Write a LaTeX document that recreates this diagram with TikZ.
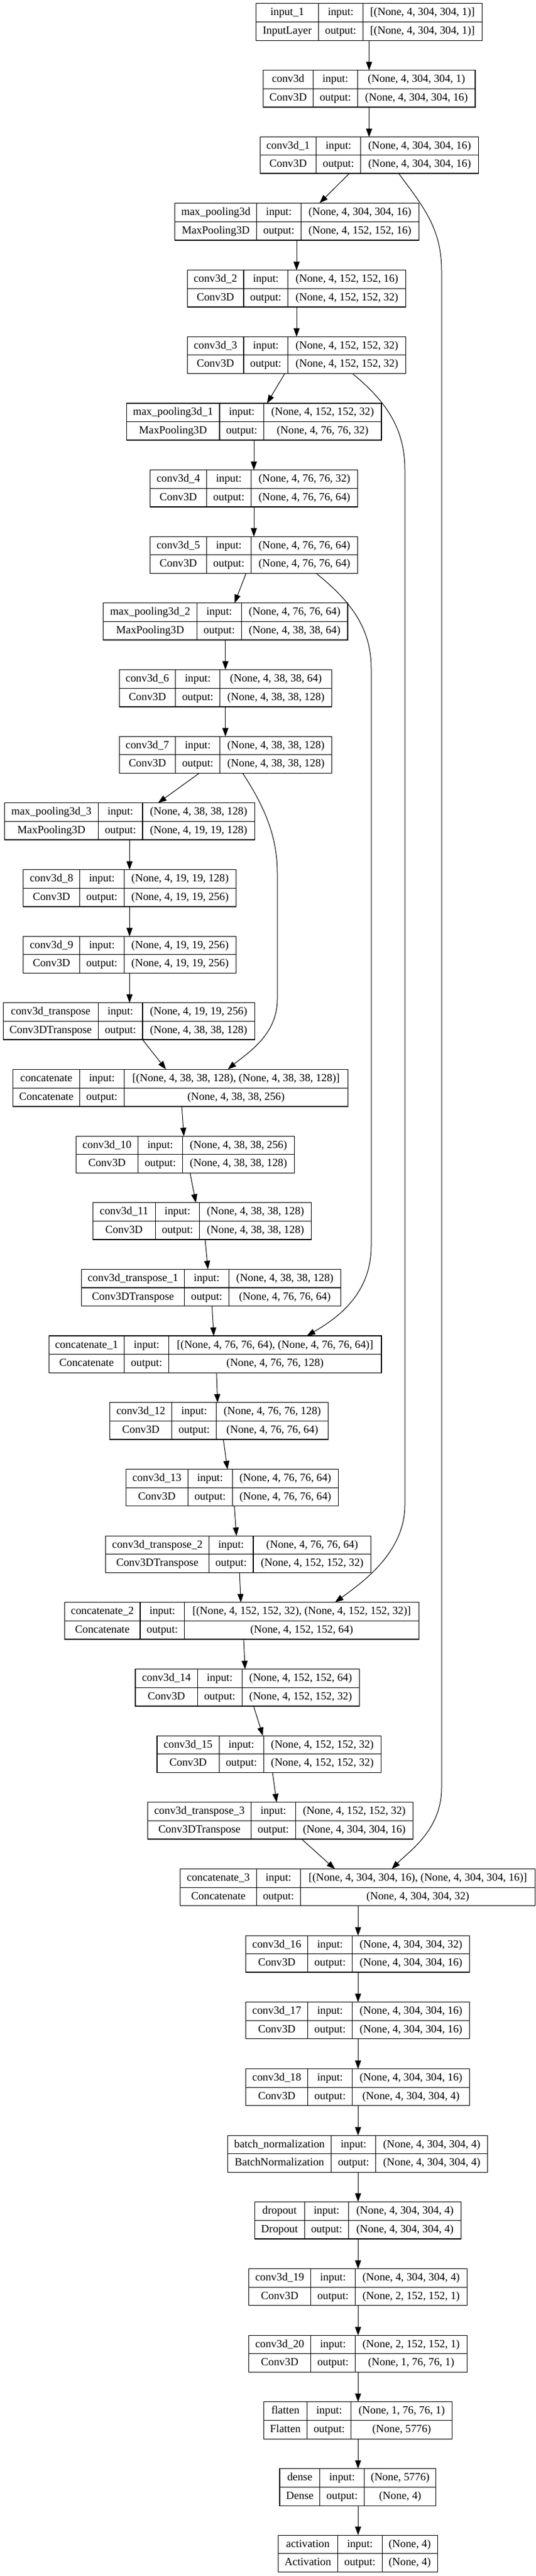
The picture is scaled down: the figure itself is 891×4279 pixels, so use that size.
\documentclass[tikz,border=0pt]{standalone}
\usepackage{fontspec}
\setmainfont{Liberation Serif}
\usetikzlibrary{arrows.meta}
\tikzset{
  lbox/.style={draw, line width=1.1pt, rectangle, inner sep=0pt, outer sep=0pt},
  cell/.style={line width=1.1pt},
  txt/.style={inner sep=0pt, text height=12.6pt, text depth=3.3pt, font=\fontsize{18.3}{22}\selectfont},
  arr/.style={line width=1pt, -{Triangle[length=14pt,width=10pt]}},
}
\newcommand\geo[6]{\def\gL{#1}\def\gA{#2}\def\gB{#3}\def\gR{#4}\def\gT{#5}\def\gU{#6}}
\newcommand\lay[5]{%
  \node[lbox, anchor=north west, minimum width={(\gR-\gL)*1pt}, minimum height={(\gU-\gT)*1pt}] (#1) at (\gL,\gT) {};
  \draw[cell] (\gA,\gT) -- (\gA,\gU) (\gB,\gT) -- (\gB,\gU) (\gL,{\gT+(\gU-\gT)/2}) -- (\gR,{\gT+(\gU-\gT)/2});
  \node[txt] (#1-n) at ({(\gL+\gA)/2},{\gT+(\gU-\gT)/4}) {#2};
  \node[txt] (#1-c) at ({(\gL+\gA)/2},{\gU-(\gU-\gT)/4}) {#3};
  \node[txt] (#1-i) at ({(\gA+\gB)/2},{\gT+(\gU-\gT)/4}) {input:};
  \node[txt] (#1-o) at ({(\gA+\gB)/2},{\gU-(\gU-\gT)/4}) {output:};
  \node[txt] (#1-a) at ({(\gB+\gR)/2},{\gT+(\gU-\gT)/4}) {#4};
  \node[txt] (#1-b) at ({(\gB+\gR)/2},{\gU-(\gU-\gT)/4}) {#5};
}
\begin{document}
\begin{tikzpicture}[x=1pt,y=-1pt]
\useasboundingbox[fill=white] (0,0) rectangle (891,4279);

\geo{425.5}{529.5}{603.2}{801.4}{5.7}{67.3}
\lay{in}{input\_1}{InputLayer}{[(None, 4, 304, 304, 1)]}{[(None, 4, 304, 304, 1)]}
\geo{437.5}{520.4}{594.6}{790}{116.7}{178}
\lay{c0}{conv3d}{Conv3D}{(None, 4, 304, 304, 1)}{(None, 4, 304, 304, 16)}
\geo{432.4}{525.5}{599.8}{795.1}{227.7}{288}
\lay{c1}{conv3d\_1}{Conv3D}{(None, 4, 304, 304, 16)}{(None, 4, 304, 304, 16)}
\geo{290.7}{426.7}{500.4}{696.3}{337.3}{399}
\lay{mp0}{max\_pooling3d}{MaxPooling3D}{(None, 4, 304, 304, 16)}{(None, 4, 152, 152, 16)}
\geo{311.3}{405}{478.7}{674.6}{448.7}{510}
\lay{c2}{conv3d\_2}{Conv3D}{(None, 4, 152, 152, 16)}{(None, 4, 152, 152, 32)}
\geo{311.3}{405}{478.7}{674.6}{559.3}{620.3}
\lay{c3}{conv3d\_3}{Conv3D}{(None, 4, 152, 152, 32)}{(None, 4, 152, 152, 32)}
\geo{210.2}{365}{438.7}{634}{670}{731}
\lay{mp1}{max\_pooling3d\_1}{MaxPooling3D}{(None, 4, 152, 152, 32)}{(None, 4, 76, 76, 32)}
\geo{249.6}{343.3}{417.5}{594.6}{780.7}{842}
\lay{c4}{conv3d\_4}{Conv3D}{(None, 4, 76, 76, 32)}{(None, 4, 76, 76, 64)}
\geo{249.6}{343.3}{417.5}{594.6}{891.3}{952.3}
\lay{c5}{conv3d\_5}{Conv3D}{(None, 4, 76, 76, 64)}{(None, 4, 76, 76, 64)}
\geo{171.9}{327.3}{401.5}{578}{1001.7}{1063}
\lay{mp2}{max\_pooling3d\_2}{MaxPooling3D}{(None, 4, 76, 76, 64)}{(None, 4, 38, 38, 64)}
\geo{198.2}{291.9}{365.6}{551.8}{1112.3}{1174}
\lay{c6}{conv3d\_6}{Conv3D}{(None, 4, 38, 38, 64)}{(None, 4, 38, 38, 128)}
\geo{198.2}{291.9}{365.6}{551.8}{1223.3}{1284.3}
\lay{c7}{conv3d\_7}{Conv3D}{(None, 4, 38, 38, 128)}{(None, 4, 38, 38, 128)}
\geo{7.4}{163.4}{237}{423.3}{1333.7}{1395}
\lay{mp3}{max\_pooling3d\_3}{MaxPooling3D}{(None, 4, 38, 38, 128)}{(None, 4, 19, 19, 128)}
\geo{38.8}{132.5}{206.2}{392.4}{1444.7}{1506}
\lay{c8}{conv3d\_8}{Conv3D}{(None, 4, 19, 19, 128)}{(None, 4, 19, 19, 256)}
\geo{38.8}{132.5}{206.2}{392.4}{1555.3}{1616.3}
\lay{c9}{conv3d\_9}{Conv3D}{(None, 4, 19, 19, 256)}{(None, 4, 19, 19, 256)}
\geo{5.1}{163.4}{237}{423.3}{1665.7}{1727}
\lay{ct0}{conv3d\_transpose}{Conv3DTranspose}{(None, 4, 19, 19, 256)}{(None, 4, 38, 38, 128)}
\geo{21.7}{132.5}{206.2}{578.6}{1776.3}{1838}
\lay{cat0}{concatenate}{Concatenate}{[(None, 4, 38, 38, 128), (None, 4, 38, 38, 128)]}{(None, 4, 38, 38, 256)}
\geo{126.2}{229.6}{303.3}{489.5}{1887.3}{1948.3}
\lay{c10}{conv3d\_10}{Conv3D}{(None, 4, 38, 38, 256)}{(None, 4, 38, 38, 128)}
\geo{154.2}{258.2}{331.9}{517.5}{1997.7}{2059}
\lay{c11}{conv3d\_11}{Conv3D}{(None, 4, 38, 38, 128)}{(None, 4, 38, 38, 128)}
\geo{135.4}{306.7}{380.4}{566.6}{2108.3}{2169.7}
\lay{ct1}{conv3d\_transpose\_1}{Conv3DTranspose}{(None, 4, 38, 38, 128)}{(None, 4, 76, 76, 64)}
\geo{81.1}{206.8}{280.5}{634}{2219}{2280.3}
\lay{cat1}{concatenate\_1}{Concatenate}{[(None, 4, 76, 76, 64), (None, 4, 76, 76, 64)]}{(None, 4, 76, 76, 128)}
\geo{182.8}{285.6}{359.9}{545.5}{2329.7}{2391}
\lay{c12}{conv3d\_12}{Conv3D}{(None, 4, 76, 76, 128)}{(None, 4, 76, 76, 64)}
\geo{209.1}{312.4}{386.1}{562.6}{2440.7}{2501.7}
\lay{c13}{conv3d\_13}{Conv3D}{(None, 4, 76, 76, 64)}{(None, 4, 76, 76, 64)}
\geo{175.9}{347.3}{421}{616.9}{2551.3}{2612.3}
\lay{ct2}{conv3d\_transpose\_2}{Conv3DTranspose}{(None, 4, 76, 76, 64)}{(None, 4, 152, 152, 32)}
\geo{107.4}{233}{306.7}{696.3}{2661.7}{2723}
\lay{cat2}{concatenate\_2}{Concatenate}{[(None, 4, 152, 152, 32), (None, 4, 152, 152, 32)]}{(None, 4, 152, 152, 64)}
\geo{225}{328.4}{402.1}{597.5}{2772.7}{2834}
\lay{c14}{conv3d\_14}{Conv3D}{(None, 4, 152, 152, 64)}{(None, 4, 152, 152, 32)}
\geo{261}{364.4}{438.1}{633.5}{2883.3}{2944.3}
\lay{c15}{conv3d\_15}{Conv3D}{(None, 4, 152, 152, 32)}{(None, 4, 152, 152, 32)}
\geo{245.6}{417.5}{491.2}{686.6}{2993.7}{3055}
\lay{ct3}{conv3d\_transpose\_3}{Conv3DTranspose}{(None, 4, 152, 152, 32)}{(None, 4, 304, 304, 16)}
\geo{299.9}{426.1}{499.8}{889.4}{3104.7}{3165.7}
\lay{cat3}{concatenate\_3}{Concatenate}{[(None, 4, 304, 304, 16), (None, 4, 304, 304, 16)]}{(None, 4, 304, 304, 32)}
\geo{408.4}{511.8}{585.5}{780.8}{3215.3}{3276}
\lay{c16}{conv3d\_16}{Conv3D}{(None, 4, 304, 304, 32)}{(None, 4, 304, 304, 16)}
\geo{408.4}{511.8}{585.5}{780.8}{3325.7}{3386.7}
\lay{c17}{conv3d\_17}{Conv3D}{(None, 4, 304, 304, 16)}{(None, 4, 304, 304, 16)}
\geo{408.4}{511.8}{585.5}{780.8}{3436.7}{3497.7}
\lay{c18}{conv3d\_18}{Conv3D}{(None, 4, 304, 304, 16)}{(None, 4, 304, 304, 4)}
\geo{378.7}{550.6}{624.9}{810.5}{3547.3}{3608.3}
\lay{bn}{batch\_normalization}{BatchNormalization}{(None, 4, 304, 304, 4)}{(None, 4, 304, 304, 4)}
\geo{423.3}{506.1}{579.8}{766.6}{3657.3}{3719}
\lay{dp}{dropout}{Dropout}{(None, 4, 304, 304, 4)}{(None, 4, 304, 304, 4)}
\geo{413.5}{516.4}{590.6}{776.3}{3768.7}{3829.7}
\lay{c19}{conv3d\_19}{Conv3D}{(None, 4, 304, 304, 4)}{(None, 2, 152, 152, 1)}
\geo{413.5}{516.4}{590.6}{776.3}{3879.3}{3940.3}
\lay{c20}{conv3d\_20}{Conv3D}{(None, 2, 152, 152, 1)}{(None, 1, 76, 76, 1)}
\geo{438.1}{510.7}{583.8}{751.7}{3989.7}{4051}
\lay{fl}{flatten}{Flatten}{(None, 1, 76, 76, 1)}{(None, 5776)}
\geo{465}{531.8}{605.5}{724.9}{4100.7}{4162}
\lay{de}{dense}{Dense}{(None, 5776)}{(None, 4)}
\geo{462.1}{561.5}{635.2}{727.1}{4211}{4272.3}
\lay{ac}{activation}{Activation}{(None, 4)}{(None, 4)}

% straight connectors
\draw[arr] (613.5,0 |- in.south) -- (613.5,0 |- c0.north);
\draw[arr] (613.5,0 |- c0.south) -- (613.5,0 |- c1.north);
\draw[arr] (580.9,0 |- c1.south) -- (531.2,0 |- mp0.north);
\draw[arr] (493,0 |- mp0.south) -- (493,0 |- c2.north);
\draw[arr] (493,0 |- c2.south) -- (493,0 |- c3.north);
\draw[arr] (473.5,0 |- c3.south) -- (443.8,0 |- mp1.north);
\draw[arr] (422,0 |- mp1.south) -- (422,0 |- c4.north);
\draw[arr] (422,0 |- c4.south) -- (422,0 |- c5.north);
\draw[arr] (409,0 |- c5.south) -- (390,0 |- mp2.north);
\draw[arr] (374.7,0 |- mp2.south) -- (374.7,0 |- c6.north);
\draw[arr] (374.7,0 |- c6.south) -- (374.7,0 |- c7.north);
\draw[arr] (331.3,0 |- c7.south) -- (262.8,0 |- mp3.north);
\draw[arr] (215.3,0 |- mp3.south) -- (215.3,0 |- c8.north);
\draw[arr] (215.3,0 |- c8.south) -- (215.3,0 |- c9.north);
\draw[arr] (215.3,0 |- c9.south) -- (215.3,0 |- ct0.north);
\draw[arr] (237,0 |- ct0.south) -- (275.9,0 |- cat0.north);
\draw[arr] (302.2,0 |- cat0.south) -- (305.6,0 |- c10.north);
\draw[arr] (315.9,0 |- c10.south) -- (325.6,0 |- c11.north);
\draw[arr] (341,0 |- c11.south) -- (345.6,0 |- ct1.north);
\draw[arr] (352.4,0 |- ct1.south) -- (355.3,0 |- cat1.north);
\draw[arr] (359.9,0 |- cat1.south) -- (361.6,0 |- c12.north);
\draw[arr] (371.3,0 |- c12.south) -- (378.1,0 |- c13.north);
\draw[arr] (389.6,0 |- c13.south) -- (393,0 |- ct2.north);
\draw[arr] (398.1,0 |- ct2.south) -- (400.4,0 |- cat2.north);
\draw[arr] (405,0 |- cat2.south) -- (407.3,0 |- c14.north);
\draw[arr] (421.5,0 |- c14.south) -- (437,0 |- c15.north);
\draw[arr] (453,0 |- c15.south) -- (459.8,0 |- ct3.north);
\draw[arr] (501.5,0 |- ct3.south) -- (556.9,0 |- cat3.north);
\draw[arr] (595.2,0 |- cat3.south) -- (595.2,0 |- c16.north);
\draw[arr] (595.2,0 |- c16.south) -- (595.2,0 |- c17.north);
\draw[arr] (595.2,0 |- c17.south) -- (595.2,0 |- c18.north);
\draw[arr] (595.2,0 |- c18.south) -- (595.2,0 |- bn.north);
\draw[arr] (595.2,0 |- bn.south) -- (595.2,0 |- dp.north);
\draw[arr] (595.2,0 |- dp.south) -- (595.2,0 |- c19.north);
\draw[arr] (595.2,0 |- c19.south) -- (595.2,0 |- c20.north);
\draw[arr] (595.2,0 |- c20.south) -- (595.2,0 |- fl.north);
\draw[arr] (595.2,0 |- fl.south) -- (595.2,0 |- de.north);
\draw[arr] (595.2,0 |- de.south) -- (595.2,0 |- ac.north);

% skip connections
\draw[arr] (662.6,0 |- c1.south) .. controls (705,345) and (734,380) .. (734,450)
  -- (734,2970) .. controls (734,3040) and (680,3075) .. (651.2,0 |- cat3.north);
\draw[arr] (585.5,0 |- c3.south) .. controls (640,665) and (673,710) .. (673,780)
  -- (673,2500) .. controls (673,2580) and (600,2630) .. (556.9,0 |- cat2.north);
\draw[arr] (525.5,0 |- c5.south) .. controls (585,1000) and (617,1045) .. (617,1110)
  -- (617,2070) .. controls (617,2150) and (560,2190) .. (510,0 |- cat1.north);
\draw[arr] (403.3,0 |- c7.south) .. controls (440,1340) and (461,1390) .. (461,1450)
  -- (461,1660) .. controls (461,1720) and (410,1750) .. (378.7,0 |- cat0.north);
\end{tikzpicture}
\end{document}
